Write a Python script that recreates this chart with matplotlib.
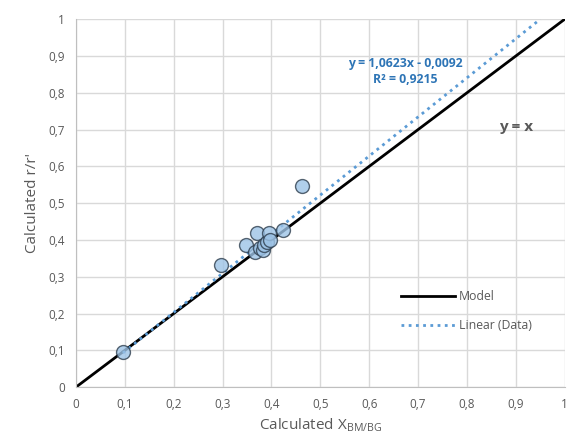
import numpy as np
import matplotlib
matplotlib.use("Agg")
from matplotlib import pyplot as plt
from matplotlib.ticker import FuncFormatter

# calculated X_BM/BG vs calculated r/r'
x_data = [0.096, 0.296, 0.348, 0.366, 0.370, 0.376, 0.383, 0.385, 0.390, 0.395, 0.397, 0.423, 0.462]
y_data = [0.096, 0.333, 0.385, 0.367, 0.419, 0.378, 0.372, 0.387, 0.395, 0.419, 0.399, 0.428, 0.546]

slope = 1.0623
intercept = -0.0092
r2 = 0.9215

ticks = [0, 0.1, 0.2, 0.3, 0.4, 0.5, 0.6, 0.7, 0.8, 0.9, 1.0]

plt.rcParams['font.family'] = ['Open Sans', 'DejaVu Sans']
grey = "#595959"

fig = plt.figure(figsize=(5.67, 4.46), dpi=100)
ax = fig.add_axes([0.134, 0.132, 0.862, 0.825])

ax.plot([0, 1], [0, 1], color="black", linewidth=2, label="Model", zorder=2)

x_fit = np.array([min(x_data), (1 - intercept) / slope])
ax.plot(x_fit, slope * x_fit + intercept, color="#5B9BD5", linestyle=(0, (1, 1.6)),
        linewidth=2, label="Linear (Data)", zorder=3)

ax.scatter(x_data, y_data, s=100, facecolor="#9DC3E6", edgecolor="#2F3F4F",
           linewidth=1.0, alpha=0.8, zorder=4)

ax.text(0.673, 0.858, "y = 1,0623x - 0,0092\nR² = 0,9215", color="#2E75B6",
        fontsize=8.8, fontweight="bold", ha="center", va="center", linespacing=1.25)
ax.text(0.9, 0.707, "y = x", color=grey, fontsize=11, fontweight="bold",
        ha="center", va="center")

ax.set_xlim(0, 1)
ax.set_ylim(0, 1)
ax.set_xticks(ticks)
ax.set_yticks(ticks)
fmt = FuncFormatter(lambda v, p: ("%g" % round(v, 1)).replace(".", ","))
ax.xaxis.set_major_formatter(fmt)
ax.yaxis.set_major_formatter(fmt)
ax.tick_params(length=0, labelsize=8.5, labelcolor=grey, pad=8)
ax.grid(True, color="#D9D9D9", linewidth=1)
ax.set_axisbelow(True)
for s in ["top", "right"]:
    ax.spines[s].set_visible(False)
for s in ["left", "bottom"]:
    ax.spines[s].set_color("#BFBFBF")

ax.set_xlabel("Calculated X$_{\\mathregular{BM/BG}}$", fontsize=11, color=grey, labelpad=4)
ax.set_ylabel("Calculated r/r'", fontsize=11, color=grey, labelpad=6)

leg = ax.legend(loc="lower right", bbox_to_anchor=(0.955, 0.12), frameon=False,
                fontsize=8.8, labelspacing=1.3, handlelength=4.4, handletextpad=0.3)
for t in leg.get_texts():
    t.set_color(grey)

fig.savefig("out.png", dpi=100)
